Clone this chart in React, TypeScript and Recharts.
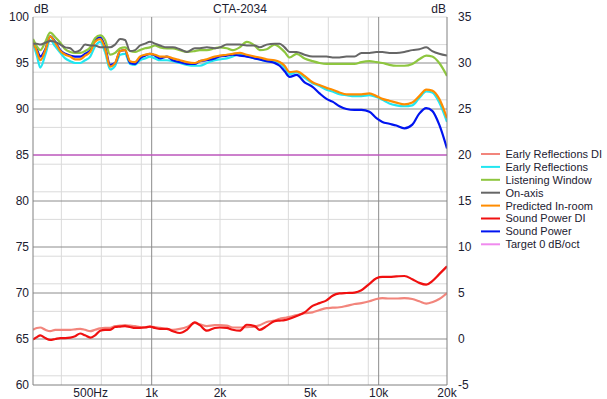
import { LineChart, Line, XAxis, YAxis, CartesianGrid, Legend } from "recharts";

// frequency grid (Hz) shared by all curves
const freqs = [
  300, 312, 323, 340, 357, 376, 396, 416, 438, 460,
  484, 509, 536, 563, 593, 623, 656, 690, 726, 763,
  803, 845, 888, 935, 983,
  1034, 1088, 1168, 1240, 1331, 1429, 1549, 1630, 1750, 1897,
  1996, 2142, 2276, 2443, 2623, 2844, 2991, 3211, 3482, 3662,
  3852, 4053, 4350, 4716, 5113, 5489, 5891, 6262, 6721, 7214,
  7823, 8395, 9103, 9772, 10383, 11145, 11963, 12972, 14069, 15095,
  16203, 17218, 18487, 20000,
];

const onAxis = [
  97.1, 97.1, 97.0, 97.2, 97.4, 97.3, 97.0, 96.7, 96.6, 96.2,
  96.4, 97.0, 96.9, 96.9, 96.7, 96.7, 96.7, 97.0, 97.6, 97.5,
  96.3, 96.4, 96.9, 97.1, 97.3,
  97.1, 96.9, 96.7, 96.7, 96.5, 96.2, 96.6, 96.6, 96.7, 96.6,
  96.7, 97.0, 97.0, 97.0, 96.9, 96.9, 96.7, 97.0, 97.1, 97.1,
  96.7, 96.2, 96.2, 95.9, 95.7, 95.7, 95.7, 95.6, 95.6, 95.7,
  95.7, 96.1, 96.1, 96.2, 96.2, 96.1, 96.1, 96.2, 96.4, 96.5,
  96.7, 96.3, 96.0, 95.8,
];

const listeningWindow = [
  97.6, 96.8, 96.4, 97.3, 98.3, 97.8, 97.2, 96.5, 96.2, 96.1,
  96.1, 96.3, 96.7, 97.7, 98.0, 97.5, 95.9, 96.1, 96.6, 96.7,
  96.3, 96.2, 96.4, 96.6, 96.7,
  96.9, 96.7, 96.6, 96.6, 96.4, 96.2, 96.3, 96.4, 96.4, 96.6,
  96.7, 96.6, 96.4, 96.7, 97.3, 96.9, 96.4, 96.5, 97.0, 96.7,
  96.2, 95.6, 96.0, 95.5, 95.2, 95.0, 94.9, 94.9, 94.9, 94.9,
  94.9, 95.1, 95.2, 95.1, 95.0, 94.8, 94.7, 94.7, 94.9, 95.4,
  95.8, 95.7, 95.0, 93.6,
];

const earlyReflections = [
  97.2, 95.8, 94.5, 95.9, 97.5, 96.8, 96.1, 95.5, 95.2, 95.0,
  95.0, 95.3, 95.7, 96.8, 97.3, 96.2, 94.3, 94.7, 95.9, 96.0,
  94.9, 94.8, 95.3, 95.5, 95.7,
  95.5, 95.3, 95.3, 95.2, 95.0, 94.8, 94.7, 94.7, 95.0, 95.3,
  95.4, 95.5, 95.7, 96.0, 95.8, 95.5, 95.4, 95.2, 95.2, 95.0,
  94.5, 93.8, 94.0, 93.4, 92.8, 92.5, 92.1, 91.9, 91.6, 91.5,
  91.4, 91.4, 91.5, 91.3, 91.0, 90.6, 90.4, 90.3, 90.4, 91.2,
  91.9, 91.8, 90.7, 88.6,
];

const predictedInRoom = [
  97.3, 96.3, 95.3, 96.4, 97.9, 97.2, 96.3, 95.9, 95.7, 95.4,
  95.4, 95.8, 96.2, 97.3, 97.6, 96.6, 94.6, 95.0, 96.3, 96.4,
  95.2, 95.1, 95.7, 95.9, 96.0,
  95.9, 95.7, 95.7, 95.5, 95.3, 95.1, 95.0, 95.2, 95.4, 95.7,
  95.8, 95.9, 96.0, 96.1, 95.9, 95.7, 95.6, 95.4, 95.3, 95.1,
  94.7, 94.0, 94.1, 93.6, 92.9, 92.6, 92.3, 92.1, 91.8, 91.6,
  91.6, 91.6, 91.7, 91.4, 91.1, 90.9, 90.7, 90.5, 90.7, 91.4,
  92.1, 92.0, 91.1, 89.0,
];

const soundPower = [
  97.3, 96.5, 95.7, 96.5, 97.9, 97.3, 96.4, 96.0, 95.8, 95.7,
  95.7, 96.0, 96.4, 97.5, 97.8, 96.8, 94.8, 95.0, 96.3, 96.4,
  95.0, 94.9, 95.5, 95.8, 96.0,
  95.8, 95.5, 95.7, 95.3, 95.1, 94.9, 94.9, 95.2, 95.3, 95.5,
  95.7, 95.8, 95.9, 95.8, 95.7, 95.5, 95.4, 95.2, 95.0, 94.7,
  94.1, 93.5, 93.7, 92.9, 92.4, 91.7, 91.1, 90.8, 90.3, 90.0,
  89.9, 89.9, 89.7, 89.0, 88.6, 88.4, 88.2, 87.9, 88.3, 89.5,
  90.1, 89.8, 88.3, 85.7,
];

// directivity indices, right axis
const soundPowerDI = [
  -0.05, 0.2, 0.4, 0.1, -0.1, 0.0, 0.1, 0.1, 0.15, 0.3,
  0.6, 0.4, 0.15, 0.4, 0.9, 1.0, 1.0, 1.3, 1.35, 1.4,
  1.3, 1.2, 1.2, 1.25, 1.35,
  1.2, 1.1, 1.1, 0.85, 0.65, 1.0, 1.8, 1.5, 0.9, 1.2,
  1.25, 1.2, 1.0, 0.9, 1.55, 1.4, 1.0, 1.4, 1.95, 2.0,
  2.05, 2.2, 2.5, 2.9, 3.6, 3.9, 4.2, 4.7, 4.95, 5.0,
  5.05, 5.3, 6.0, 6.6, 6.75, 6.75, 6.8, 6.85, 6.5, 6.1,
  5.9, 6.3, 7.05, 7.9,
];

const earlyReflectionsDI = [
  1.0, 1.2, 1.25, 1.0, 0.85, 1.0, 1.0, 1.0, 1.0, 1.05,
  1.1, 1.0, 0.85, 1.0, 1.15, 1.2, 1.2, 1.4, 1.45, 1.5,
  1.45, 1.4, 1.3, 1.3, 1.35,
  1.3, 1.2, 1.1, 1.0, 1.1, 1.3, 1.75, 1.6, 1.4, 1.5,
  1.5, 1.45, 1.25, 1.25, 1.3, 1.35, 1.5, 1.85, 2.0, 2.2,
  2.3, 2.4, 2.6, 2.8, 2.9, 3.15, 3.35, 3.4, 3.45, 3.6,
  3.8, 3.9, 4.1, 4.35, 4.45, 4.4, 4.4, 4.45, 4.35, 4.1,
  3.85, 4.0, 4.35, 5.0,
];

const targetFreqs = [300, 20000];
const targetLevel = [85, 85];

const freqTicks = [500, 1000, 2000, 5000, 10000, 20000];
const freqLabels = ["500Hz", "1k", "2k", "5k", "10k", "20k"];
const dbTicks = [60, 65, 70, 75, 80, 85, 90, 95, 100];
const diTicks = [-5, 0, 5, 10, 15, 20, 25, 30, 35];

const minorFreqs = [400, 500, 600, 700, 800, 900, 2000, 3000, 4000, 5000, 6000, 7000, 8000, 9000];
const majorFreqs = [1000, 10000];
const minorDb = [
  61, 62, 63, 64, 66, 67, 68, 69, 71, 72, 73, 74, 76, 77, 78, 79, 81, 82, 83, 84,
  86, 87, 88, 89, 91, 92, 93, 94, 96, 97, 98, 99, 100,
];
const majorDb = [65, 70, 75, 80, 85, 90, 95];

const data = freqs.map((f, i) => ({
  f,
  on: onAxis[i],
  lw: listeningWindow[i],
  er: earlyReflections[i],
  pir: predictedInRoom[i],
  sp: soundPower[i],
  spdi: soundPowerDI[i],
  erdi: earlyReflectionsDI[i],
}));

const targetData = targetFreqs.map((f, i) => ({ f, target: targetLevel[i] }));

const legendItems = [
  { name: "Early Reflections DI", color: "#F2857C" },
  { name: "Early Reflections", color: "#22E6F0" },
  { name: "Listening Window", color: "#8EC63F" },
  { name: "On-axis", color: "#666666" },
  { name: "Predicted In-room", color: "#FF8C00" },
  { name: "Sound Power DI", color: "#F01010" },
  { name: "Sound Power", color: "#0014F0" },
  { name: "Target 0 dB/oct", color: "#F08AEE" },
];

const FONT = "'Liberation Sans', Arial, sans-serif";
const TEXT = "#1c2030";

const FreqTick = (props: any) => {
  const { x, y, payload } = props;
  const label = freqLabels[freqTicks.indexOf(payload.value)] ?? "";
  if (label.endsWith("Hz")) {
    return (
      <text x={x - 10} y={y + 11.5} textAnchor="start" fontSize={12} fontFamily={FONT} fill={TEXT}>
        {label}
      </text>
    );
  }
  return (
    <text x={x} y={y + 11.5} textAnchor="middle" fontSize={12} fontFamily={FONT} fill={TEXT}>
      {label}
    </text>
  );
};

const renderLegend = () => (
  <svg width={129} height={110}>
    {legendItems.map((it, i) => (
      <g key={it.name}>
        <line x1={3} x2={22} y1={8 + i * 12.9} y2={8 + i * 12.9} stroke={it.color} strokeWidth={2} />
        <text x={27.5} y={8 + i * 12.9} dy="0.36em" fontSize={11} fontFamily={FONT} fill={TEXT}>
          {it.name}
        </text>
      </g>
    ))}
  </svg>
);

export default function App() {
  return (
    <div style={{ position: "absolute", left: 0, top: 0, width: 607, height: 399, background: "#fff" }}>
      <LineChart width={607} height={399} data={data} margin={{ top: 17, right: 130, bottom: 0, left: 0 }}>
        <CartesianGrid
          yAxisId="db"
          stroke="#DADADA"
          horizontalValues={minorDb}
          verticalValues={minorFreqs}
        />
        <CartesianGrid
          yAxisId="db"
          stroke="#8C8C8C"
          horizontalValues={majorDb}
          verticalValues={majorFreqs}
        />
        <XAxis
          dataKey="f"
          type="number"
          scale="log"
          domain={[300, 20000]}
          allowDataOverflow
          ticks={freqTicks}
          height={14}
          tickSize={0}
          tickMargin={0}
          tickLine={false}
          axisLine={{ stroke: "#808080" }}
          tick={<FreqTick />}
        />
        <YAxis
          yAxisId="db"
          domain={[60, 100]}
          ticks={dbTicks}
          width={33}
          tickSize={0}
          tickMargin={4}
          tickLine={false}
          axisLine={{ stroke: "#808080" }}
          tick={{ fontSize: 12, fontFamily: FONT, fill: TEXT }}
        />
        <YAxis
          yAxisId="di"
          orientation="right"
          domain={[-5, 35]}
          ticks={diTicks}
          width={30}
          tickSize={0}
          tickMargin={11}
          tickLine={false}
          axisLine={{ stroke: "#808080" }}
          tick={{ fontSize: 12, fontFamily: FONT, fill: TEXT, textAnchor: "start" }}
        />
        <Line data={targetData} yAxisId="db" dataKey="target" stroke="#D43CD4" strokeWidth={1} dot={false} isAnimationActive={false} />
        <Line yAxisId="di" dataKey="erdi" type="monotone" stroke="#F2857C" strokeWidth={2.2} dot={false} isAnimationActive={false} />
        <Line yAxisId="di" dataKey="spdi" type="monotone" stroke="#F01010" strokeWidth={2.2} dot={false} isAnimationActive={false} />
        <Line yAxisId="db" dataKey="er" type="monotone" stroke="#22E6F0" strokeWidth={2.2} dot={false} isAnimationActive={false} />
        <Line yAxisId="db" dataKey="sp" type="monotone" stroke="#0014F0" strokeWidth={2.2} dot={false} isAnimationActive={false} />
        <Line yAxisId="db" dataKey="pir" type="monotone" stroke="#FF8C00" strokeWidth={2.2} dot={false} isAnimationActive={false} />
        <Line yAxisId="db" dataKey="lw" type="monotone" stroke="#8EC63F" strokeWidth={2.2} dot={false} isAnimationActive={false} />
        <Line yAxisId="db" dataKey="on" type="monotone" stroke="#666666" strokeWidth={2} dot={false} isAnimationActive={false} />
        <Legend
          layout="vertical"
          align="center"
          verticalAlign="middle"
          wrapperStyle={{ left: 478, top: 146, width: 129, height: 110 }}
          content={renderLegend}
        />
      </LineChart>
      <svg
        width={607}
        height={399}
        style={{ position: "absolute", left: 0, top: 0, pointerEvents: "none" }}
      >
        <text x={240} y={13} textAnchor="middle" fontSize={12} fontFamily={FONT} fill={TEXT}>
          CTA-2034
        </text>
        <text x={34} y={12.5} fontSize={12} fontFamily={FONT} fill={TEXT}>
          dB
        </text>
        <text x={446} y={12.5} textAnchor="end" fontSize={12} fontFamily={FONT} fill={TEXT}>
          dB
        </text>
      </svg>
    </div>
  );
}
